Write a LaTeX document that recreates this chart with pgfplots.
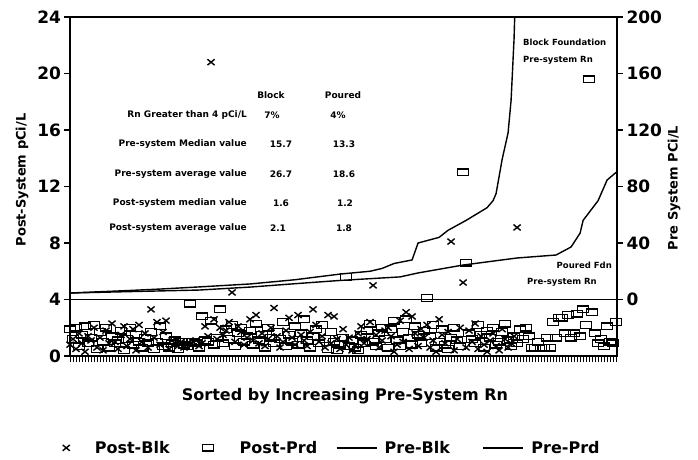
\documentclass[border=0pt]{standalone}
\usepackage{fontspec}
\setmainfont{DejaVu Sans}
\usepackage{pgfplots}
\pgfplotsset{compat=1.18}
\pgfplotsset{longline legend/.style={legend image code/.code={\draw[##1] (0pt,0pt) -- (40pt,0pt);}}}
\begin{document}
\begin{tikzpicture}[font=\bfseries]
\path[use as bounding box] (-70pt,-103pt) rectangle (628pt,356pt);
\begin{axis}[
  at={(0pt,0pt)}, anchor=south west,
  scale only axis, width=547pt, height=339pt,
  xmin=0, xmax=182.3, ymin=0, ymax=24,
  xtick={0,1,...,182}, xticklabels={},
  ytick={0,4,...,24},
  xtick pos=bottom, ytick pos=left,
  tick align=outside,
  major tick length=5.5pt,
  xtick style={line width=0.7pt, black},
  ytick style={line width=1.2pt, black},
  axis line style={line width=1.3pt},
  /pgf/number format/assume math mode=true,
  yticklabel style={font=\fontsize{17}{17}\selectfont\bfseries},
]
\addplot[only marks, mark=x, mark size=4.6pt, mark options={line width=1.4pt, xscale=1.1, yscale=0.9}] coordinates {
(0,0.8)(1,1.2)(2,0.5)(3,1.6)(4,0.9)(5,0.3)(6,1.4)(7,1.1)(8,2.0)(9,0.6)
(10,1.3)(11,0.4)(12,1.8)(13,0.9)(14,2.3)(15,1.0)(16,0.5)(17,1.5)(18,2.1)(19,0.7)
(20,1.2)(21,1.9)(22,0.4)(23,2.2)(24,1.0)(25,1.6)(26,0.6)(27,3.3)(28,1.3)(29,2.4)
(30,0.8)(31,1.7)(32,2.5)(33,0.5)(34,1.1)(35,0.9)(36,0.7)(37,1.0)(38,0.6)(39,0.9)
(40,0.8)(41,1.0)(42,1.1)(43,0.7)(44,0.9)(45,2.1)(46,1.4)(47,20.8)(48,2.6)(49,1.2)
(50,2.0)(51,1.5)(52,1.8)(53,2.4)(54,4.5)(55,1.0)(56,2.1)(57,1.7)(58,0.8)(59,1.3)
(60,2.6)(61,1.1)(62,2.9)(63,0.9)(64,1.6)(65,0.7)(66,1.2)(67,2.0)(68,3.4)(69,1.4)
(70,0.6)(71,1.0)(72,1.8)(73,2.7)(74,1.3)(75,0.8)(76,2.9)(77,1.5)(78,1.1)(79,0.7)
(80,1.7)(81,3.3)(82,2.2)(83,1.0)(84,1.4)(85,0.6)(86,2.9)(87,0.9)(88,2.8)(89,1.2)
(90,0.5)(91,1.9)(92,0.8)(93,1.3)(94,0.4)(95,0.7)(96,1.6)(97,2.1)(98,0.9)(99,1.2)
(100,2.4)(101,5.0)(102,1.5)(103,0.6)(104,1.1)(105,1.8)(106,2.0)(107,1.4)(108,0.3)(109,0.8)
(110,2.5)(111,1.0)(112,3.1)(113,0.5)(114,2.8)(115,1.6)(116,0.7)(117,1.9)(118,1.3)(119,2.2)
(120,0.6)(121,1.1)(122,0.3)(123,2.6)(124,1.5)(125,0.9)(126,1.7)(127,8.1)(128,0.4)(129,1.2)
(130,2.0)(131,5.2)(132,0.6)(133,1.8)(134,1.0)(135,2.3)(136,0.5)(137,1.4)(138,0.8)(139,0.3)
(140,1.1)(141,1.6)(142,0.7)(143,0.4)(144,1.9)(145,1.2)(146,0.6)(147,0.9)(148,1.4)(149,9.1)
};
\addplot[only marks, mark=square, mark size=3.9pt, mark options={line width=1.4pt, xscale=1.4, yscale=0.85, rounded corners=1.2pt}] coordinates {
(0,1.9)(1,1.2)(2,2.0)(3,0.7)(4,1.5)(5,2.1)(6,0.9)(7,1.3)(8,2.2)(9,0.5)
(10,1.7)(11,1.0)(12,2.0)(13,0.6)(14,1.4)(15,0.9)(16,1.1)(17,1.8)(18,0.4)(19,1.2)
(20,2.0)(21,0.8)(22,1.5)(23,1.0)(24,0.6)(25,1.3)(26,0.9)(27,1.7)(28,0.5)(29,1.0)
(30,2.1)(31,0.7)(32,1.4)(33,0.6)(34,0.9)(35,1.1)(36,0.5)(37,1.0)(38,0.8)(39,0.7)
(40,3.7)(41,1.0)(42,0.9)(43,0.6)(44,2.8)(45,1.1)(46,1.0)(47,2.5)(48,0.8)(49,1.3)
(50,3.3)(51,0.9)(52,1.9)(53,1.2)(54,2.2)(55,0.7)(56,1.6)(57,2.0)(58,1.0)(59,1.4)
(60,1.8)(61,0.8)(62,2.3)(63,1.1)(64,1.5)(65,0.6)(66,2.0)(67,1.3)(68,0.9)(69,1.7)
(70,1.2)(71,2.4)(72,0.7)(73,1.5)(74,1.0)(75,2.1)(76,0.8)(77,1.6)(78,2.6)(79,1.1)
(80,0.6)(81,1.4)(82,1.9)(83,0.9)(84,2.2)(85,1.2)(86,0.5)(87,1.7)(88,1.0)(89,0.4)
(90,0.8)(91,1.3)(92,5.6)(93,0.7)(94,1.1)(95,0.6)(96,0.4)(97,1.5)(98,0.9)(99,1.8)
(100,2.3)(101,1.0)(102,0.7)(103,1.6)(104,2.0)(105,1.2)(106,0.6)(107,1.9)(108,2.5)(109,1.1)
(110,0.7)(111,1.7)(112,2.6)(113,1.3)(114,0.8)(115,2.1)(116,1.5)(117,0.9)(118,1.8)(119,4.1)
(120,1.4)(121,2.2)(122,0.6)(123,1.0)(124,1.9)(125,0.8)(126,0.5)(127,1.3)(128,2.0)(129,1.1)
(130,0.7)(131,13.0)(132,6.6)(133,1.6)(134,1.2)(135,0.9)(136,2.2)(137,1.5)(138,0.6)(139,1.8)
(140,1.3)(141,2.0)(142,0.8)(143,1.0)(144,1.7)(145,2.3)(146,1.1)(147,0.7)(148,1.4)(149,0.9)
(150,1.9)(151,1.2)(152,2.0)(153,1.4)(154,0.6)(155,0.6)(156,1.0)(157,0.6)(158,0.6)(159,1.3)
(160,0.6)(161,2.4)(162,1.3)(163,2.7)(164,2.7)(165,1.6)(166,2.9)(167,1.3)(168,1.6)(169,3.0)
(170,1.4)(171,3.3)(172,2.2)(173,19.6)(174,3.1)(175,1.6)(176,0.9)(177,1.2)(178,0.7)(179,2.1)
(180,1.0)(181,0.9)(182,2.4)
};
\end{axis}
\begin{axis}[
  at={(0pt,0pt)}, anchor=south west,
  scale only axis, width=547pt, height=339pt,
  xmin=0, xmax=182.3, ymin=-40, ymax=200,
  axis x line=none, axis y line*=right,
  ytick={0,40,...,200},
  tick align=outside, major tick length=6pt,
  ytick style={line width=1.2pt, black},
  axis line style={line width=1.3pt},
  /pgf/number format/assume math mode=true,
  yticklabel style={font=\fontsize{17}{17}\selectfont\bfseries},
  legend columns=4,
  legend style={at={(-0.0137,-0.271)}, anchor=west, draw=none, fill=none, inner sep=0pt,
    font=\fontsize{16}{16}\selectfont\bfseries,
    /tikz/column 1/.style={column sep=23pt},
    /tikz/column 2/.style={column sep=31pt},
    /tikz/column 3/.style={column sep=24pt},
    /tikz/column 4/.style={column sep=17pt},
    /tikz/column 5/.style={column sep=5pt},
    /tikz/column 6/.style={column sep=30pt},
    /tikz/column 7/.style={column sep=6pt}},
]
\addplot[line width=1.8pt, forget plot] coordinates {(0,0)(182.3,0)};
\addlegendimage{only marks, mark=x, mark size=4.6pt, mark options={line width=1.4pt, xscale=1.1, yscale=0.9}}
\addlegendentry{Post-Blk}
\addlegendimage{only marks, mark=square, mark size=3.9pt, mark options={line width=1.4pt, xscale=1.4, yscale=0.85, rounded corners=1.2pt}}
\addlegendentry{Post-Prd}
\addplot[line width=1.4pt, longline legend] coordinates {
(0,4.6)(10,5.5)(20,6.4)(30,7.4)(43,8.9)(60,11)(75,14)(90,18)(100,20)(104,22)(108,25.5)(114,28)(116,40)(123,44)(126,49)(132,56)(139,65)(141,70)(142,75)(144,99)(146,118)(147,141)(148,185)(149,260)
};
\addlegendentry{Pre-Blk}
\addplot[line width=1.4pt, longline legend] coordinates {
(0,4.6)(20,5.6)(43,6.7)(60,8.8)(77,11.5)(90,13.5)(110,16)(116,18.8)(131,24.4)(149,29.4)(162,31.5)(167,37.2)(170,47)(171,56)(176,70)(179,84.6)(182,90)
};
\addlegendentry{Pre-Prd}
\end{axis}
% axis titles
\node[rotate=90, font=\fontsize{13}{13}\selectfont\bfseries] at (-48pt,176pt) {Post-System pCi/L};
\node[rotate=90, font=\fontsize{13}{13}\selectfont\bfseries] at (604pt,168pt) {Pre System PCi/L};
\node[font=\fontsize{16}{16}\selectfont\bfseries] at (275pt,-40pt) {Sorted by Increasing Pre-System Rn};
% inset table
\begin{scope}[every node/.style={font=\fontsize{9}{9}\selectfont\bfseries, inner sep=0pt}]
\node at (201pt,261pt) {Block};
\node at (273pt,261pt) {Poured};
\node[anchor=east] at (177pt,241pt) {Rn Greater than 4 pCi/L};
\node[anchor=east] at (177pt,212pt) {Pre-system Median value};
\node[anchor=east] at (177pt,182pt) {Pre-system average value};
\node[anchor=east] at (177pt,153pt) {Post-system median value};
\node[anchor=east] at (177pt,128pt) {Post-system average value};
\node at (202pt,241pt) {7\%};
\node at (268pt,241pt) {4\%};
\node at (211pt,212pt) {15.7};
\node at (274pt,212pt) {13.3};
\node at (211pt,182pt) {26.7};
\node at (274pt,182pt) {18.6};
\node at (211pt,153pt) {1.6};
\node at (275pt,153pt) {1.2};
\node at (208pt,128pt) {2.1};
\node at (274pt,128pt) {1.8};
\end{scope}
\begin{scope}[every node/.style={font=\fontsize{8.5}{8.5}\selectfont\bfseries, inner sep=0pt}]
\node[anchor=west] at (453pt,314pt) {Block Foundation};
\node[anchor=west] at (453pt,296pt) {Pre-system Rn};
\node[anchor=east] at (542pt,91pt) {Poured Fdn};
\node[anchor=east] at (527pt,74pt) {Pre-system Rn};
\end{scope}
\end{tikzpicture}
\end{document}
